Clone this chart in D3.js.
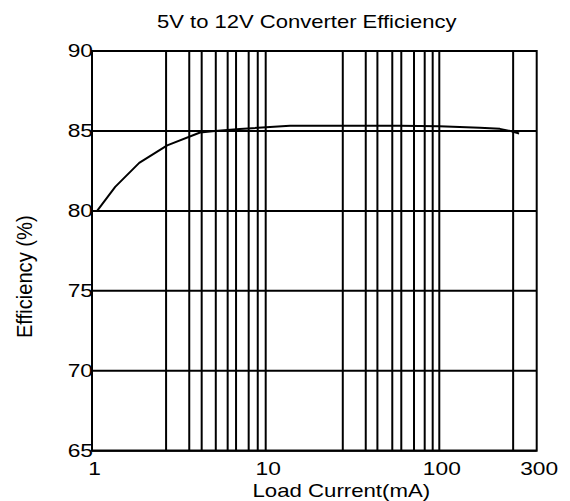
<!DOCTYPE html>
<html>
<head>
<meta charset="utf-8">
<script src="https://cdn.jsdelivr.net/npm/d3@7"></script>
<style>
  body { margin: 0; background: #fff; }
  text { font-family: "Liberation Sans", Arial, sans-serif; fill: #000; }
</style>
</head>
<body>
<div id="plot-container"></div>
<script>
// values
const titleText = "5V to 12V Converter Efficiency";
const xLabelText = "Load Current(mA)";
const yLabelText = "Efficiency (%)";

const xTicks = [1, 10, 100, 300];
const yTicks = [65, 70, 75, 80, 85, 90];

// the vertical grid lines are not at the usual 2..9 spots, so keep them as read
const xGrid = [2.67, 3.63, 4.28, 5.16, 6.04, 6.75, 7.98, 9, 10,
               27.8, 37.7, 44, 53.6, 60.4, 71.5, 82.4, 91.6, 100, 230];

const loadCurrent = [1.07, 1.36, 1.87, 2.71, 4.19, 5.1, 7.1, 13.8, 59, 100, 158, 198, 226, 246];
const efficiency  = [80.0, 81.5, 83.0, 84.1, 84.9, 85.0, 85.12, 85.33, 85.32, 85.29, 85.2, 85.13, 84.98, 84.84];

const width = 570, height = 501;
const margin = { top: 51, right: 33, bottom: 50, left: 92 };

const svg = d3.select("#plot-container").append("svg")
    .attr("width", width)
    .attr("height", height);

// x axis of the original gives the 100..300 stretch more room than a plain log would
const xScale = d3.scaleLog()
    .domain([1, 10, 100, 300])
    .range([margin.left, 265.7, 439.3, width - margin.right - 0.3]);

const yScale = d3.scaleLinear()
    .domain([65, 90])
    .range([height - margin.bottom - 0.3, margin.top]);

// text in the picture is wider than the font, stretch it
function stretch(sel, k) {
  sel.each(function () {
    const w = this.getComputedTextLength();
    d3.select(this).attr("textLength", w * k).attr("lengthAdjust", "spacingAndGlyphs");
  });
}

const grid = svg.append("g").attr("class", "grid");

grid.selectAll("line.v")
  .data(xGrid)
  .enter().append("line")
  .attr("class", "v")
  .attr("x1", d => xScale(d)).attr("x2", d => xScale(d))
  .attr("y1", yScale(90)).attr("y2", yScale(65))
  .attr("stroke", "#000").attr("stroke-width", 2);

grid.selectAll("line.h")
  .data(yTicks)
  .enter().append("line")
  .attr("class", "h")
  .attr("x1", xScale(1)).attr("x2", xScale(300))
  .attr("y1", d => yScale(d)).attr("y2", d => yScale(d))
  .attr("stroke", "#000").attr("stroke-width", 2);

// frame
svg.append("rect")
  .attr("x", xScale(1)).attr("y", yScale(90))
  .attr("width", xScale(300) - xScale(1))
  .attr("height", yScale(65) - yScale(90))
  .attr("fill", "none").attr("stroke", "#000").attr("stroke-width", 2);

// efficiency curve
const pts = loadCurrent.map((v, i) => ({ x: v, y: efficiency[i] }));
svg.append("path")
  .datum(pts)
  .attr("fill", "none")
  .attr("stroke", "#000")
  .attr("stroke-width", 2)
  .attr("stroke-linejoin", "round")
  .attr("d", d3.line().x(d => xScale(d.x)).y(d => yScale(d.y)));

// axes, labels only
const xAxis = svg.append("g")
  .attr("transform", `translate(0,${yScale(65)})`)
  .call(d3.axisBottom(xScale).tickValues(xTicks).tickSize(0).tickFormat(d3.format("d")));
xAxis.select(".domain").remove();
xAxis.selectAll("text")
  .attr("y", 24.5).attr("dy", 0).attr("dx", 2)
  .attr("font-size", 18.5)
  .attr("font-family", "Liberation Sans, Arial, sans-serif")
  .call(stretch, 1.23);

const yAxis = svg.append("g")
  .attr("transform", `translate(${xScale(1) + 1},0)`)
  .call(d3.axisLeft(yScale).tickValues(yTicks).tickSize(0).tickPadding(0));
yAxis.select(".domain").remove();
yAxis.selectAll("text")
  .attr("font-size", 18.5)
  .attr("font-family", "Liberation Sans, Arial, sans-serif")
  .call(stretch, 1.23);

// title
svg.append("text")
  .attr("x", 306.7).attr("y", 28)
  .attr("text-anchor", "middle")
  .attr("font-size", 18.5)
  .text(titleText)
  .call(stretch, 1.19);

// x label
svg.append("text")
  .attr("x", 341.3).attr("y", 496.5)
  .attr("text-anchor", "middle")
  .attr("font-size", 18.5)
  .text(xLabelText)
  .call(stretch, 1.2);

// y label
svg.append("text")
  .attr("transform", "translate(32,276.7) scale(1.2,1) rotate(-90)")
  .attr("text-anchor", "middle")
  .attr("font-size", 18.5)
  .text(yLabelText)
  .call(stretch, 1.09);
</script>
</body>
</html>
